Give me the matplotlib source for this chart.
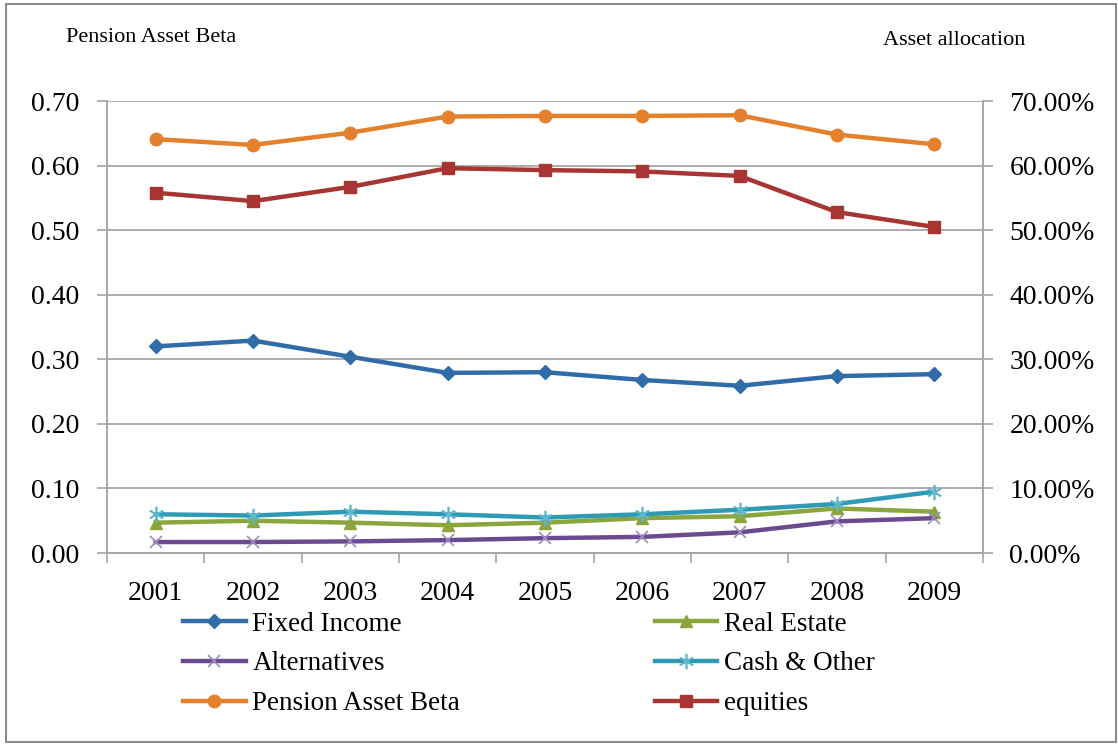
import numpy as np
import matplotlib.pyplot as plt
from matplotlib.patches import Rectangle
from matplotlib.ticker import FuncFormatter

plt.rcParams["font.family"] = "Liberation Serif"

years = ['2001', '2002', '2003', '2004', '2005', '2006', '2007', '2008', '2009']

# pension asset beta (left axis)
pension_beta = [0.641, 0.632, 0.651, 0.676, 0.677, 0.677, 0.678, 0.648, 0.633]

# asset allocation in % (right axis)
fixed_income = [32.0, 32.9, 30.4, 27.9, 28.0, 26.8, 25.9, 27.4, 27.7]
real_estate = [4.7, 5.0, 4.7, 4.3, 4.7, 5.4, 5.7, 6.9, 6.4]
alternatives = [1.7, 1.7, 1.8, 2.0, 2.3, 2.5, 3.2, 4.9, 5.4]
cash_other = [6.0, 5.8, 6.4, 6.0, 5.5, 6.0, 6.7, 7.6, 9.5]
equities = [55.8, 54.5, 56.7, 59.6, 59.3, 59.1, 58.4, 52.8, 50.5]

c_fixed = '#2f6ca8'
c_real = '#8aa63c'
c_alt = '#6b4a8f'
c_cash = '#2e9ab3'
c_pens = '#e5812c'
c_eq = '#a73532'
grid_c = '#a6a6a6'

fig = plt.figure(figsize=(11.18, 7.44), dpi=100)
ax = fig.add_axes([0.0957, 0.2567, 0.7835, 0.6075])
ax2 = ax.twinx()

x = np.arange(len(years))
lw = 3.2

l_fixed, = ax2.plot(x, fixed_income, color=c_fixed, lw=lw, marker='D', ms=7, label='Fixed Income')
l_real, = ax2.plot(x, real_estate, color=c_real, lw=lw, marker='^', ms=9, label='Real Estate')
l_alt, = ax2.plot(x, alternatives, color=c_alt, lw=lw, marker='x', ms=9, mew=1.2,
                  mec='#9f8cc0', label='Alternatives')
l_cash, = ax2.plot(x, cash_other, color=c_cash, lw=lw, marker=(6, 2, 0), ms=11, mew=1.2,
                   mec='#5fb7cc', label='Cash & Other')
l_eq, = ax2.plot(x, equities, color=c_eq, lw=lw, marker='s', ms=9, label='equities')
l_pens, = ax.plot(x, pension_beta, color=c_pens, lw=lw, marker='o', ms=9, label='Pension Asset Beta')

ax.set_ylim(0, 0.70)
ax2.set_ylim(0, 70)
ax.set_xlim(-0.5, len(years) - 0.5)
ax.set_yticks(np.arange(0, 0.71, 0.1))
ax2.set_yticks(np.arange(0, 71, 10))
ax.yaxis.set_major_formatter(FuncFormatter(lambda v, p: f'{v:.2f}'))
ax2.yaxis.set_major_formatter(FuncFormatter(lambda v, p: f'{v:.2f}%'))
ax.grid(axis='y', color=grid_c, lw=1.3)
ax.set_axisbelow(True)

ax.set_xticks(x)
ax.set_xticklabels(years)
ax.set_xticks(np.arange(-0.5, len(years), 1), minor=True)
ax.tick_params(axis='x', which='major', length=0, pad=20, labelsize=20)
ax.tick_params(axis='x', which='minor', length=7, color=grid_c, width=1.2)
ax.tick_params(axis='y', length=7, color=grid_c, width=1.2, pad=13, labelsize=20)
ax2.tick_params(axis='y', length=7, color=grid_c, width=1.2, pad=12, labelsize=20)

for a in (ax, ax2):
    a.spines['top'].set_visible(False)
    for s in ('left', 'right', 'bottom'):
        a.spines[s].set_color(grid_c)
        a.spines[s].set_linewidth(1.2)

fig.text(0.059, 0.950, 'Pension Asset Beta', fontsize=16, va='center', ha='left')
fig.text(0.790, 0.945, 'Asset allocation', fontsize=16, va='center', ha='left')

handles = [l_fixed, l_alt, l_pens, l_real, l_cash, l_eq]
fig.legend(handles=handles, labels=[h.get_label() for h in handles], ncol=2,
           loc='upper left', bbox_to_anchor=(0.164, 0.178), frameon=False,
           fontsize=19.5, handlelength=2.3, handletextpad=0.25, columnspacing=7.2,
           labelspacing=0.55, borderpad=0, borderaxespad=0)

fig.patches.append(Rectangle((0.005, 0.003), 0.993, 0.992, transform=fig.transFigure,
                             fill=False, edgecolor='#8c8c8c', lw=1.5))

fig.savefig('out.png', dpi=100)
